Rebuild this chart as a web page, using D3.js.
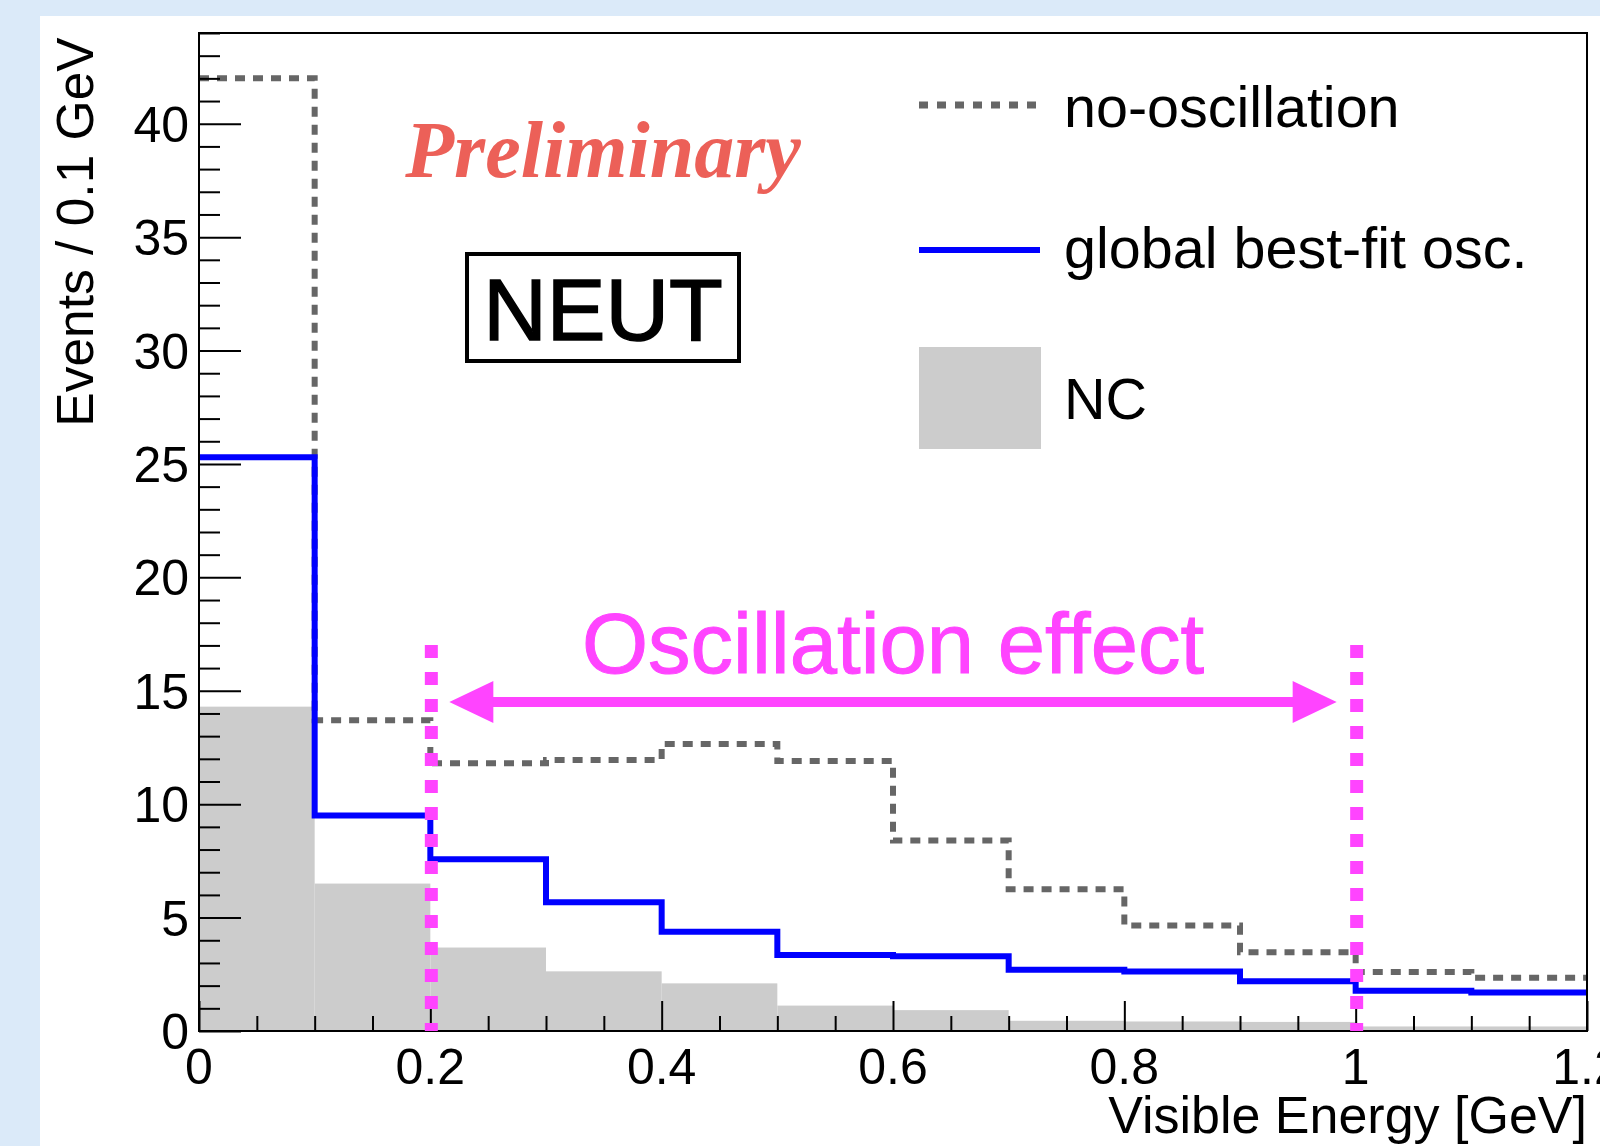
<!DOCTYPE html>
<html>
<head>
<meta charset="utf-8">
<script src="https://cdn.jsdelivr.net/npm/d3@7"></script>
<style>
  html, body { margin: 0; padding: 0; background: #dbeaf9; }
  svg { display: block; }
</style>
</head>
<body>
<script>
// ===================================================================

const WIDTH = 1600
const HEIGHT = 1146

// bin edges in GeV (0.1 GeV bins)
const binEdges = [0, 0.1, 0.2, 0.3, 0.4, 0.5, 0.6, 0.7, 0.8, 0.9, 1.0, 1.1, 1.2]

// events per 0.1 GeV
const noOscillation = [42.0, 13.7, 11.8, 11.95, 12.65, 11.9, 8.4, 6.25, 4.65, 3.47, 2.6, 2.35]
const bestFitOsc = [25.3, 9.5, 7.57, 5.68, 4.38, 3.35, 3.3, 2.7, 2.62, 2.19, 1.77, 1.7]
const ncEvents = [14.3, 6.5, 3.68, 2.63, 2.1, 1.12, 0.92, 0.45, 0.42, 0.4, 0.2, 0.2]

const xMajorTicks = [0, 0.2, 0.4, 0.6, 0.8, 1, 1.2]
const xTickLabels = ['0', '0.2', '0.4', '0.6', '0.8', '1', '1.2']
const yMajorTicks = [0, 5, 10, 15, 20, 25, 30, 35, 40]

// window of the oscillation effect
const oscRange = [0.2, 1.0]

const legendItems = ['no-oscillation', 'global best-fit osc.', 'NC']

// ===================================================================

const FONT = '"Liberation Sans", Arial, Helvetica, sans-serif'
const MAGENTA = '#ff44ff'
const GRAY_LINE = '#666666'
const NC_FILL = '#cccccc'

const x = d3.scaleLinear().domain([0, 1.2]).range([199, 1587])
const y = d3.scaleLinear().domain([0, 44]).range([1031, 33])

const svg = d3.select('body').append('svg')
  .attr('width', WIDTH)
  .attr('height', HEIGHT)

svg.append('rect')
  .attr('width', WIDTH).attr('height', HEIGHT)
  .attr('fill', '#dbeaf9')

svg.append('rect')
  .attr('x', 40).attr('y', 16)
  .attr('width', WIDTH - 40).attr('height', HEIGHT - 16)
  .attr('fill', '#ffffff')

// step path for a histogram, verticals only at inner bin edges
const stepPoints = values => {
  const pts = []
  values.forEach((v, i) => {
    pts.push([binEdges[i], v])
    pts.push([binEdges[i + 1], v])
  })
  return pts
}

const line = d3.line()
  .x(d => x(d[0]))
  .y(d => y(d[1]))

// NC filled histogram
svg.append('g').selectAll('rect')
  .data(ncEvents)
  .join('rect')
    .attr('x', (d, i) => x(binEdges[i]))
    .attr('y', d => y(d))
    .attr('width', (d, i) => x(binEdges[i + 1]) - x(binEdges[i]))
    .attr('height', d => y(0) - y(d))
    .attr('fill', NC_FILL)

// no-oscillation (dotted)
svg.append('path')
  .datum(stepPoints(noOscillation))
  .attr('d', line)
  .attr('fill', 'none')
  .attr('stroke', GRAY_LINE)
  .attr('stroke-width', 6)
  .attr('stroke-dasharray', '10,8')

// best-fit oscillation
svg.append('path')
  .datum(stepPoints(bestFitOsc))
  .attr('d', line)
  .attr('fill', 'none')
  .attr('stroke', '#0000ff')
  .attr('stroke-width', 6)

// ===================================================================
// axes

const axes = svg.append('g')

// frame
axes.append('rect')
  .attr('x', x(0)).attr('y', y(44))
  .attr('width', x(1.2) - x(0)).attr('height', y(0) - y(44))
  .attr('fill', 'none')
  .attr('stroke', '#000')
  .attr('stroke-width', 2)

const xAxis = d3.axisTop(x)
  .tickValues(d3.range(0, 25).map(i => i * 0.05))
  .tickSize(15)
  .tickFormat('')

axes.append('g')
  .attr('transform', `translate(0,${y(0)})`)
  .call(xAxis)
  .call(g => g.select('.domain').remove())
  .call(g => g.selectAll('.tick line')
    .attr('stroke-width', 2)
    .attr('y2', d => (Math.abs(d / 0.2 - Math.round(d / 0.2)) < 1e-6 ? -30 : -15)))

axes.append('g')
  .selectAll('text')
  .data(xMajorTicks)
  .join('text')
    .attr('x', d => x(d))
    .attr('y', 1084)
    .attr('text-anchor', 'middle')
    .attr('font-family', FONT)
    .attr('font-size', 50)
    .text((d, i) => xTickLabels[i])

const yAxis = d3.axisRight(y)
  .tickValues(d3.range(0, 45))
  .tickFormat('')

axes.append('g')
  .attr('transform', `translate(${x(0)},0)`)
  .call(yAxis)
  .call(g => g.select('.domain').remove())
  .call(g => g.selectAll('.tick line')
    .attr('stroke-width', 2)
    .attr('x2', d => (d % 5 === 0 ? 42 : 21)))

axes.append('g')
  .selectAll('text')
  .data(yMajorTicks)
  .join('text')
    .attr('x', 189)
    .attr('y', d => y(d) + 18)
    .attr('text-anchor', 'end')
    .attr('font-family', FONT)
    .attr('font-size', 50)
    .text(d => d)

svg.append('text')
  .attr('transform', `translate(93,${(41 + 423) / 2}) rotate(-90)`)
  .attr('text-anchor', 'middle')
  .attr('font-family', FONT)
  .attr('font-size', 51.5)
  .text('Events / 0.1 GeV')

svg.append('text')
  .attr('x', x(1.2))
  .attr('y', 1133)
  .attr('text-anchor', 'end')
  .attr('font-family', FONT)
  .attr('font-size', 52)
  .text('Visible Energy [GeV]')

// ===================================================================
// annotations

svg.append('g').selectAll('line')
  .data(oscRange)
  .join('line')
    .attr('x1', d => x(d) + 1).attr('x2', d => x(d) + 1)
    .attr('y1', 645).attr('y2', y(0))
    .attr('stroke', MAGENTA)
    .attr('stroke-width', 13)
    .attr('stroke-dasharray', '13,14')

const arrowY = y(14.5)
const ax0 = x(oscRange[0]) + 19
const ax1 = x(oscRange[1]) - 19
const headLen = 44
const headHalf = 21

svg.append('line')
  .attr('x1', ax0 + headLen - 2).attr('x2', ax1 - headLen + 2)
  .attr('y1', arrowY).attr('y2', arrowY)
  .attr('stroke', MAGENTA)
  .attr('stroke-width', 10)

svg.append('path')
  .attr('d', `M${ax0},${arrowY} L${ax0 + headLen},${arrowY - headHalf} L${ax0 + headLen},${arrowY + headHalf} Z` +
    ` M${ax1},${arrowY} L${ax1 - headLen},${arrowY - headHalf} L${ax1 - headLen},${arrowY + headHalf} Z`)
  .attr('fill', MAGENTA)

svg.append('text')
  .attr('x', (ax0 + ax1) / 2)
  .attr('y', 673)
  .attr('text-anchor', 'middle')
  .attr('font-family', FONT)
  .attr('font-size', 85)
  .attr('fill', MAGENTA)
  .attr('stroke', MAGENTA)
  .attr('stroke-width', 1)
  .text('Oscillation effect')

svg.append('text')
  .attr('x', 603)
  .attr('y', 177)
  .attr('text-anchor', 'middle')
  .attr('font-family', '"Liberation Serif", "Times New Roman", serif')
  .attr('font-style', 'italic')
  .attr('font-weight', 'bold')
  .attr('font-size', 80)
  .attr('fill', '#ec6058')
  .text('Preliminary')

svg.append('rect')
  .attr('x', 467).attr('y', 254)
  .attr('width', 272).attr('height', 107)
  .attr('fill', 'none')
  .attr('stroke', '#000')
  .attr('stroke-width', 4)

svg.append('text')
  .attr('x', 603)
  .attr('y', 340)
  .attr('text-anchor', 'middle')
  .attr('font-family', FONT)
  .attr('font-size', 88)
  .attr('stroke', '#000')
  .attr('stroke-width', 1.5)
  .text('NEUT')

// ===================================================================
// legend

const legend = svg.append('g')

legend.append('line')
  .attr('x1', 919).attr('x2', 1040)
  .attr('y1', 105).attr('y2', 105)
  .attr('stroke', GRAY_LINE)
  .attr('stroke-width', 7)
  .attr('stroke-dasharray', '9,9')

legend.append('line')
  .attr('x1', 919).attr('x2', 1040)
  .attr('y1', 250).attr('y2', 250)
  .attr('stroke', '#0000ff')
  .attr('stroke-width', 6)

legend.append('rect')
  .attr('x', 919).attr('y', 347)
  .attr('width', 122).attr('height', 102)
  .attr('fill', NC_FILL)

legend.selectAll('text.legend')
  .data(legendItems)
  .join('text')
    .attr('class', 'legend')
    .attr('x', 1064)
    .attr('y', (d, i) => [127, 268, 419][i])
    .attr('font-family', FONT)
    .attr('font-size', 57.5)
    .text(d => d)
</script>
</body>
</html>
